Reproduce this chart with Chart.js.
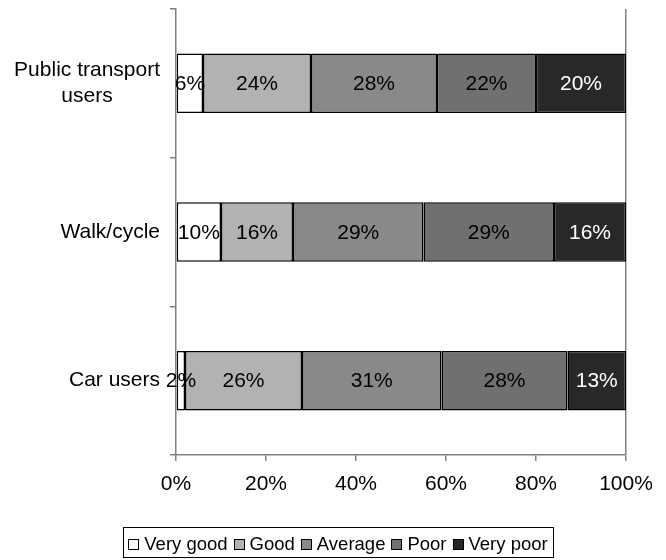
<!DOCTYPE html>
<html><head><meta charset="utf-8">
<script src="https://cdn.jsdelivr.net/npm/chart.js@4.4.1/dist/chart.umd.min.js"></script>
<style>html,body{margin:0;padding:0;background:#fff}#wrap{width:666px;height:560px}</style>
</head><body><div id="wrap"><canvas id="c" width="666" height="560"></canvas></div>
<script>
// ---- data ----
const categories = [['Public transport', 'users'], ['Walk/cycle'], ['Car users']];
const seriesNames = ['Very good', 'Good', 'Average', 'Poor', 'Very poor'];
const veryGood = [6, 10, 2];
const good = [24, 16, 26];
const average = [28, 29, 31];
const poor = [22, 29, 28];
const veryPoor = [20, 16, 13];
const xTickValues = [0, 20, 40, 60, 80, 100];

// ---- styles ----
const fills = ['#ffffff', '#b2b2b2', '#898989', '#707070', '#282828'];
const labelColors = ['#000000', '#000000', '#000000', '#000000', '#ffffff'];
const FONT = '"Liberation Sans", Arial, sans-serif';
const seriesValues = [veryGood, good, average, poor, veryPoor];

Chart.defaults.font.family = FONT;
Chart.defaults.font.size = 21;
Chart.defaults.color = '#000';

const datasets = seriesNames.map((name, i) => ({
  label: name,
  data: seriesValues[i],
  backgroundColor: fills[i],
  borderColor: '#000',
  borderWidth: 1.5,
  borderSkipped: false,
  categoryPercentage: 1,
  barPercentage: 0.4
}));

// legend drawn from the chart's datasets, boxed, below the x axis
const boxedLegend = {
  id: 'boxedLegend',
  afterDraw(chart) {
    const ctx = chart.ctx;
    ctx.save();
    ctx.font = '18.5px ' + FONT;
    const box = 11, gapText = 5, gapItem = 6, pad = 5;
    const items = chart.data.datasets.map(ds => ({
      text: ds.label, fill: ds.backgroundColor, w: ctx.measureText(ds.label).width
    }));
    const total = items.reduce((s, it) => s + box + gapText + it.w, 0) + gapItem * (items.length - 1);
    const cx = chart.width / 2 + 5;
    let x = cx - total / 2;
    const yc = 544;
    const left = Math.round(x - pad) + 0.5, right = Math.round(x + total + pad) + 0.5;
    ctx.strokeStyle = '#000';
    ctx.lineWidth = 1;
    ctx.strokeRect(left, 527.5, right - left, 30);
    ctx.textBaseline = 'middle';
    ctx.textAlign = 'left';
    items.forEach(it => {
      const by = Math.round(yc - box / 2);
      ctx.fillStyle = it.fill;
      ctx.fillRect(Math.round(x), by, box, box);
      ctx.lineWidth = 1;
      ctx.strokeStyle = '#000';
      ctx.strokeRect(Math.round(x) + 0.5, by + 0.5, box - 1, box - 1);
      ctx.fillStyle = '#000';
      ctx.fillText(it.text, x + box + gapText, yc + 1);
      x += box + gapText + it.w + gapItem;
    });
    ctx.restore();
  }
};

const barLabels = {
  id: 'barLabels',
  afterDatasetsDraw(chart) {
    const ctx = chart.ctx;
    ctx.save();
    ctx.font = '21px ' + FONT;
    ctx.textAlign = 'center';
    ctx.textBaseline = 'middle';
    chart.data.datasets.forEach((ds, di) => {
      const meta = chart.getDatasetMeta(di);
      meta.data.forEach((bar, i) => {
        const p = bar.getProps(['x', 'y', 'base'], true);
        ctx.fillStyle = labelColors[di];
        ctx.fillText(ds.data[i] + '%', (p.x + p.base) / 2, p.y + 1);
      });
    });
    ctx.restore();
  }
};

const catLabels = {
  id: 'catLabels',
  afterDraw(chart) {
    const ctx = chart.ctx;
    const ys = chart.scales.y;
    ctx.save();
    ctx.font = '21px ' + FONT;
    ctx.fillStyle = '#000';
    ctx.textAlign = 'center';
    ctx.textBaseline = 'middle';
    const lh = 26;
    chart.data.labels.forEach((lines, i) => {
      const yc = ys.getPixelForValue(i);
      const maxW = Math.max(...lines.map(l => ctx.measureText(l).width));
      const cx = ys.right - 16 - maxW / 2;
      lines.forEach((l, k) => {
        ctx.fillText(l, cx, yc + (k - (lines.length - 1) / 2) * lh);
      });
    });
    ctx.restore();
  }
};

new Chart(document.getElementById('c'), {
  type: 'bar',
  data: { labels: categories, datasets },
  plugins: [barLabels, catLabels, boxedLegend],
  options: {
    indexAxis: 'y',
    responsive: false,
    animation: false,
    devicePixelRatio: 1,
    layout: { padding: { left: 0, right: 40, top: 9, bottom: 36 } },
    scales: {
      x: {
        stacked: true,
        min: 0, max: 100,
        afterBuildTicks: s => { s.ticks = xTickValues.map(v => ({ value: v })); },
        afterFit: s => { s.height = 69; },
        ticks: { callback: v => v + '%', padding: 11, color: '#000', font: { size: 21 }, maxRotation: 0 },
        grid: {
          drawOnChartArea: true,
          color: c => (c.tick && c.tick.value === 100) ? '#808080' : 'rgba(0,0,0,0)',
          tickColor: '#808080',
          tickLength: 6,
          lineWidth: 1.5
        },
        border: { display: true, color: '#808080', width: 1.5 }
      },
      y: {
        stacked: true,
        afterFit: s => { s.width = 176; },
        ticks: { display: false },
        grid: { offset: true, drawOnChartArea: false, tickColor: '#808080', tickLength: 6, lineWidth: 1.5 },
        border: { display: true, color: '#808080', width: 1.5 }
      }
    },
    plugins: {
      legend: { display: false },
      tooltip: { enabled: false }
    }
  }
});
</script></body></html>
